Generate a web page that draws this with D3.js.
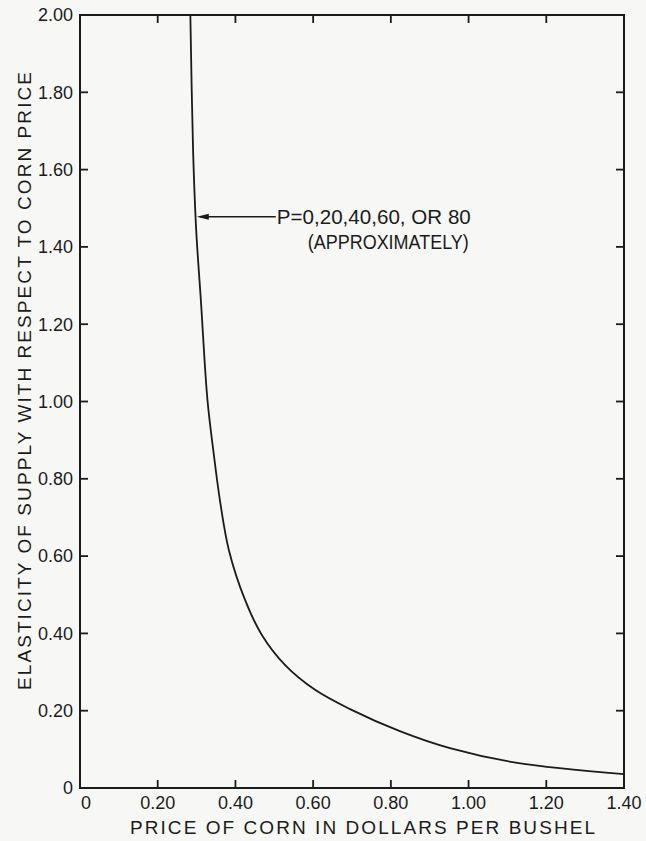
<!DOCTYPE html>
<html>
<head>
<meta charset="utf-8">
<script src="https://cdn.jsdelivr.net/npm/d3@7"></script>
<style>
  body { margin: 0; background: #f7f8f6; }
  svg { display: block; }
  text { font-family: "Liberation Sans", Arial, sans-serif; fill: #1b1b1b; }
</style>
</head>
<body>
<div id="chart"></div>
<script>
// price of corn ($/bushel) vs elasticity
var prices = [0.284, 0.291, 0.299, 0.311, 0.328, 0.343, 0.360, 0.383, 0.425, 0.468, 0.528, 0.605, 0.695, 0.823, 0.952, 1.125, 1.40];
var elasticity = [2.00, 1.651, 1.444, 1.263, 1.004, 0.874, 0.745, 0.616, 0.486, 0.396, 0.318, 0.254, 0.204, 0.147, 0.103, 0.065, 0.036];

var xTicks = [0, 0.2, 0.4, 0.6, 0.8, 1.0, 1.2, 1.4];
var xTickLabels = ["0", "0.20", "0.40", "0.60", "0.80", "1.00", "1.20", "1.40"];
var yTicks = [0, 0.2, 0.4, 0.6, 0.8, 1.0, 1.2, 1.4, 1.6, 1.8, 2.0];
var yTickLabels = ["0", "0.20", "0.40", "0.60", "0.80", "1.00", "1.20", "1.40", "1.60", "1.80", "2.00"];

var noteLines = ["P=0,20,40,60, OR 80", "(APPROXIMATELY)"];
var notePoint = { price: 0.298, elasticity: 1.478 };

var width = 646, height = 841;
var margin = { top: 15, right: 22, bottom: 53, left: 80 };

var svg = d3.select("#chart").append("svg")
  .attr("width", width)
  .attr("height", height);

var x = d3.scaleLinear().domain([0, 1.4]).range([margin.left, width - margin.right]);
var y = d3.scaleLinear().domain([0, 2.0]).range([height - margin.bottom, margin.top]);

var ink = "#1b1b1b";

// frame
svg.append("rect")
  .attr("x", x(0)).attr("y", y(2))
  .attr("width", x(1.4) - x(0)).attr("height", y(0) - y(2))
  .attr("fill", "none").attr("stroke", ink).attr("stroke-width", 2);

// ticks inward on all four sides
var tl = 8;
svg.selectAll(".xtb").data(xTicks.slice(1, -1)).enter().append("line")
  .attr("x1", function(d) { return x(d); }).attr("x2", function(d) { return x(d); })
  .attr("y1", y(0)).attr("y2", y(0) - tl)
  .attr("stroke", ink).attr("stroke-width", 1.8);
svg.selectAll(".xtt").data(xTicks.slice(1, -1)).enter().append("line")
  .attr("x1", function(d) { return x(d); }).attr("x2", function(d) { return x(d); })
  .attr("y1", y(2)).attr("y2", y(2) + tl)
  .attr("stroke", ink).attr("stroke-width", 1.8);
svg.selectAll(".ytl").data(yTicks.slice(1, -1)).enter().append("line")
  .attr("x1", x(0)).attr("x2", x(0) + tl)
  .attr("y1", function(d) { return y(d); }).attr("y2", function(d) { return y(d); })
  .attr("stroke", ink).attr("stroke-width", 1.8);
svg.selectAll(".ytr").data(yTicks.slice(1, -1)).enter().append("line")
  .attr("x1", x(1.4)).attr("x2", x(1.4) - tl)
  .attr("y1", function(d) { return y(d); }).attr("y2", function(d) { return y(d); })
  .attr("stroke", ink).attr("stroke-width", 1.8);

// tick labels
svg.selectAll(".xl").data(xTicks).enter().append("text")
  .attr("x", function(d, i) { return x(d) + (i == 0 ? 6 : 0); })
  .attr("y", y(0) + 21)
  .attr("text-anchor", "middle")
  .attr("font-size", 18)
  .text(function(d, i) { return xTickLabels[i]; });

svg.selectAll(".yl").data(yTicks).enter().append("text")
  .attr("x", x(0) - 7)
  .attr("y", function(d) { return y(d); })
  .attr("dy", "0.35em")
  .attr("text-anchor", "end")
  .attr("font-size", 18)
  .text(function(d, i) { return yTickLabels[i]; });

// axis titles
svg.append("text")
  .attr("x", 130).attr("y", 834)
  .attr("font-size", 19)
  .attr("textLength", 465).attr("lengthAdjust", "spacing")
  .text("PRICE OF CORN IN DOLLARS PER BUSHEL");

svg.append("text")
  .attr("transform", "translate(31,690) rotate(-90)")
  .attr("font-size", 19)
  .attr("textLength", 618).attr("lengthAdjust", "spacing")
  .text("ELASTICITY OF SUPPLY WITH RESPECT TO CORN PRICE");

// curve
var pts = prices.map(function(p, i) { return [p, elasticity[i]]; });
svg.append("path")
  .datum(pts)
  .attr("fill", "none")
  .attr("stroke", ink)
  .attr("stroke-width", 1.8)
  .attr("d", d3.line()
    .x(function(d) { return x(d[0]); })
    .y(function(d) { return y(d[1]); })
    .curve(d3.curveCatmullRom.alpha(0.5)));

// annotation arrow
var ax = x(notePoint.price), ay = y(notePoint.elasticity);
svg.append("line")
  .attr("x1", ax + 4).attr("x2", ax + 80)
  .attr("y1", ay).attr("y2", ay)
  .attr("stroke", ink).attr("stroke-width", 1.5);
svg.append("path")
  .attr("d", "M" + (ax + 1) + "," + ay + "L" + (ax + 13) + "," + (ay - 3) + "L" + (ax + 13) + "," + (ay + 3) + "Z")
  .attr("fill", ink);

svg.append("text")
  .attr("x", ax + 81).attr("y", ay + 7)
  .attr("font-size", 20)
  .attr("textLength", 194).attr("lengthAdjust", "spacingAndGlyphs")
  .text(noteLines[0]);
svg.append("text")
  .attr("x", ax + 112).attr("y", ay + 32)
  .attr("font-size", 20)
  .attr("textLength", 161).attr("lengthAdjust", "spacingAndGlyphs")
  .text(noteLines[1]);
</script>
</body>
</html>
